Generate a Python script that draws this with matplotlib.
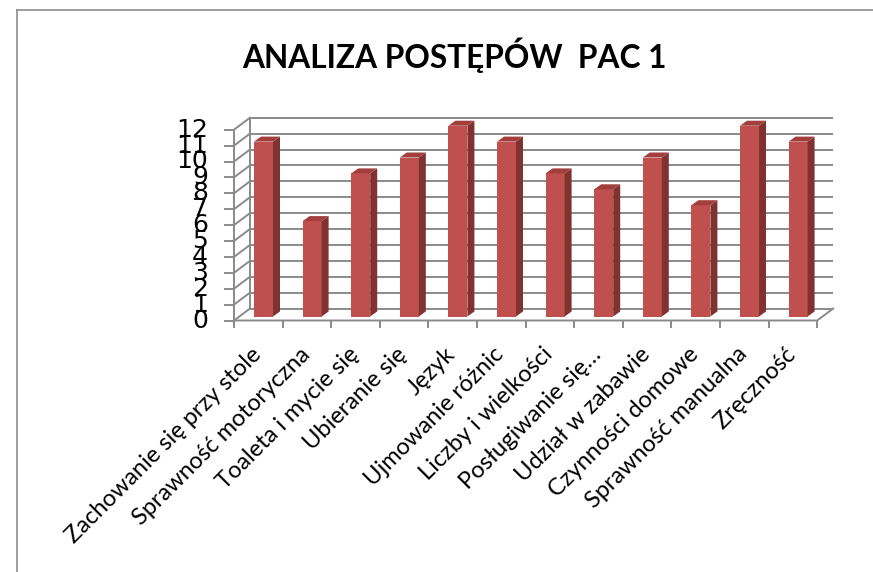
import matplotlib
matplotlib.use("Agg")
import matplotlib.pyplot as plt
from matplotlib.patches import Polygon
from matplotlib.lines import Line2D

# data
categories = ["Zachowanie się przy stole", "Sprawność motoryczna", "Toaleta i mycie się",
              "Ubieranie się", "Język", "Ujmowanie różnic", "Liczby i wielkości",
              "Posługiwanie się…", "Udział w zabawie", "Czynności domowe",
              "Sprawność manualna", "Zręczność"]
values = [11, 6, 9, 10, 12, 11, 9, 8, 10, 7, 12, 11]
yticks = list(range(0, 13))
title = "ANALIZA POSTĘPÓW  PAC 1"

W, H = 873, 572
px_cat = 48.6    # pixels per category
px_val = 15.9    # pixels per unit
x0, y0 = 234, 572 - 320.5   # front-left origin in pixels (from bottom)

fig = plt.figure(figsize=(W / 100, H / 100), dpi=100)
ax = fig.add_axes([0, 0, 1, 1])
ax.set_xlim(-x0 / px_cat, (W - x0) / px_cat)
ax.set_ylim(-y0 / px_val, (H - y0) / px_val)
ax.axis("off")

grid_c = "#8a8a8a"
wdx, wdy = 16 / px_cat, 12 / px_val   # wall depth
n = len(categories)
ymax = yticks[-1]

# back wall and side wall gridlines
for v in yticks:
    ax.plot([wdx, n + wdx], [v + wdy, v + wdy], color=grid_c, lw=1.4, zorder=1, solid_capstyle="butt")
    ax.plot([0, wdx], [v, v + wdy], color=grid_c, lw=1.4, zorder=1)
    ax.plot([-9 / px_cat, 0], [v, v], color=grid_c, lw=1.4, zorder=1)
ax.plot([wdx, wdx], [wdy, ymax + wdy], color=grid_c, lw=1.4, zorder=1)
ax.plot([0, 0], [-6 / px_val, ymax], color=grid_c, lw=1.4, zorder=1)
# floor
ax.plot([0, n, n + wdx], [0, 0, wdy], color=grid_c, lw=1.4, zorder=1)
for i in range(1, n + 1):
    ax.plot([i, i], [0, -6 / px_val], color=grid_c, lw=1.4, zorder=1)

# 3d bars
bl, bw = 20 / px_cat, 19 / px_cat
bb = 4 / px_val
ddx, ddy = 7 / px_cat, 5 / px_val
for i, v in enumerate(values):
    xl = i + bl
    xr = xl + bw
    top = v + bb
    front = Polygon([(xl, bb), (xr, bb), (xr, top), (xl, top)], closed=True,
                    fc="#C0504D", ec="none", zorder=3)
    side = Polygon([(xr, bb), (xr + ddx, bb + ddy), (xr + ddx, top + ddy), (xr, top)], closed=True,
                   fc="#7F3230", ec="none", zorder=3)
    cap = Polygon([(xl, top), (xr, top), (xr + ddx, top + ddy), (xl + ddx, top + ddy)], closed=True,
                  fc="#A23F3C", ec="none", zorder=3)
    for p in (front, side, cap):
        ax.add_patch(p)

# y tick labels
for v in yticks:
    ax.text(-26 / px_cat, v, str(v), ha="right", va="center", fontsize=18,
            family=["Liberation Sans Narrow", "DejaVu Sans"], color="black")

# category labels
for i, lab in enumerate(categories):
    ax.text(i + 0.5 - 8 / px_cat, -23 / px_val, lab, rotation=45, rotation_mode="anchor",
            ha="right", va="top", fontsize=17, family=["Lato", "DejaVu Sans"])

# title
fig.text(454 / W, 1 - 55 / H, title, ha="center", va="center", fontsize=22.8,
         fontweight="bold", family=["Lato", "DejaVu Sans"])

# chart border
fig.add_artist(Line2D([17 / W, 1], [1 - 10 / H, 1 - 10 / H], color="#8c8c8c", lw=1.2))
fig.add_artist(Line2D([17 / W, 17 / W], [0, 1 - 10 / H], color="#8c8c8c", lw=1.2))

fig.savefig("out.png", dpi=100, facecolor="white")
